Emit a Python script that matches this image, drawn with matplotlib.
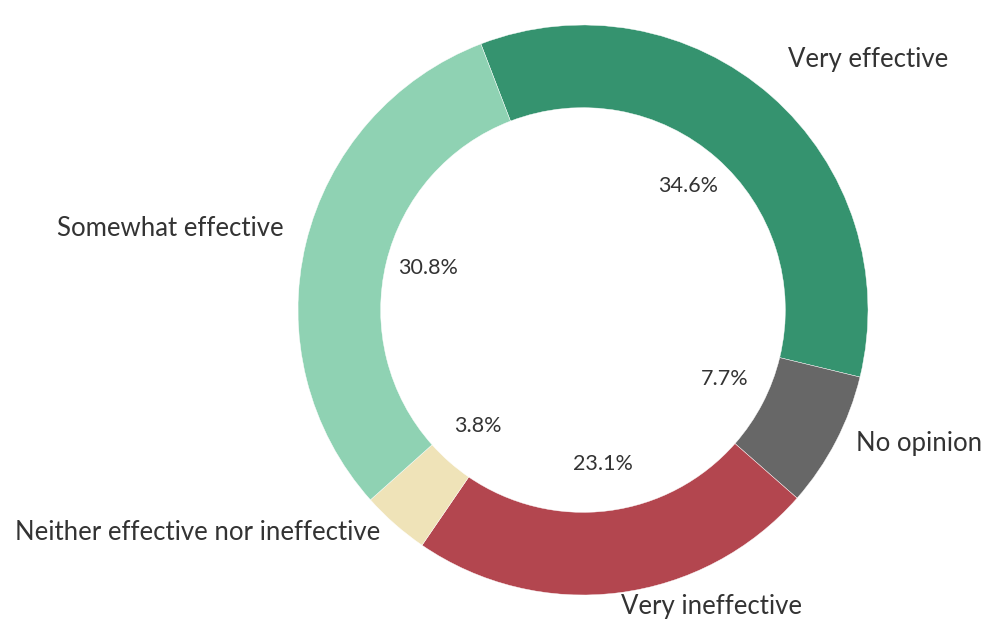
import matplotlib.pyplot as plt

# data
labels = ['Very effective', 'No opinion', 'Very ineffective',
          'Neither effective nor ineffective', 'Somewhat effective']
counts = [9, 2, 6, 1, 8]
colors = ['#35936f', '#676767', '#b3464f', '#efe3b8', '#8fd2b3']

plt.rcParams['font.family'] = ['Lato', 'DejaVu Sans']

fig = plt.figure(figsize=(9.94, 6.26), dpi=100)
ax = fig.add_axes([0, 0, 1, 1])

wedges, texts, autotexts = ax.pie(
    counts, labels=labels, colors=colors, startangle=111, counterclock=False,
    autopct='%1.1f%%', pctdistance=0.56, labeldistance=1.08,
    wedgeprops=dict(width=0.29, edgecolor='white', linewidth=0.3),
    textprops=dict(color='#333333', fontsize=18.5))
for t in autotexts:
    t.set_fontsize(15.5)
    x, y = t.get_position()
    t.set_position((x, y + 0.015))
for t in texts:
    x, y = t.get_position()
    t.set_position((x, y + 0.03))
texts[0].set_position((0.72, 0.88))

# 1 unit = 285 px, centre at (583, 310) px
ax.set_xlim(-583 / 285, 411 / 285)
ax.set_ylim(-316 / 285, 310 / 285)
ax.set_aspect('auto')
ax.axis('off')

fig.savefig('out.png', dpi=100)
